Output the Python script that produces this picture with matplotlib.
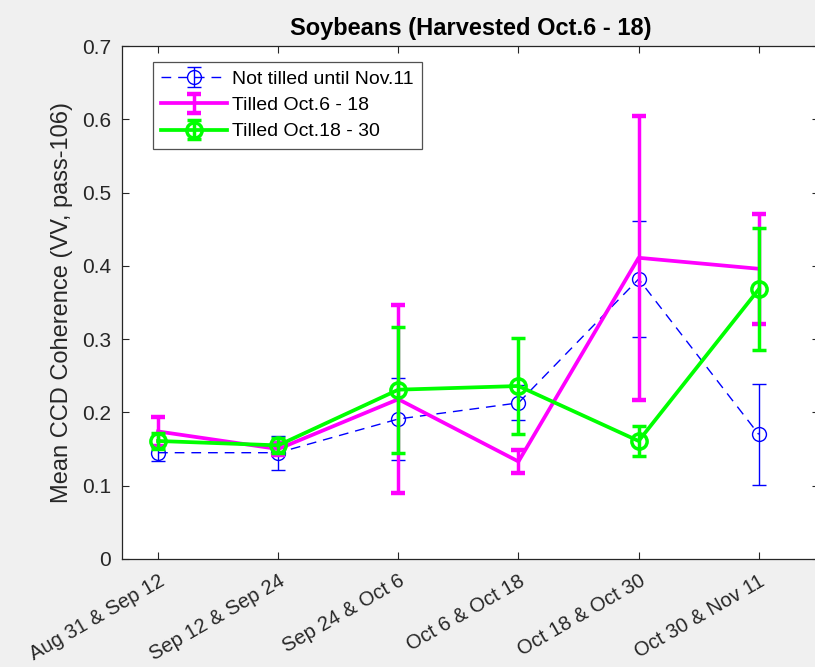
import numpy as np
import matplotlib.pyplot as plt
import matplotlib.transforms as mtransforms

plt.rcParams["font.family"] = ["Liberation Sans", "DejaVu Sans"]

pairs = ["Aug 31 & Sep 12", "Sep 12 & Sep 24", "Sep 24 & Oct 6",
         "Oct 6 & Oct 18", "Oct 18 & Oct 30", "Oct 30 & Nov 11"]

# mean coherence and error half-widths per image pair
not_tilled = [0.145, 0.145, 0.191, 0.213, 0.382, 0.170]
not_tilled_err = [0.011, 0.023, 0.056, 0.024, 0.079, 0.069]

tilled_oct6 = [0.174, 0.150, 0.218, 0.133, 0.411, 0.396]
tilled_oct6_err = [0.020, 0.008, 0.128, 0.016, 0.194, 0.075]

tilled_oct18 = [0.161, 0.155, 0.231, 0.236, 0.161, 0.368]
tilled_oct18_err = [0.011, 0.010, 0.086, 0.066, 0.020, 0.083]

yticks = [0, 0.1, 0.2, 0.3, 0.4, 0.5, 0.6, 0.7]

x = np.arange(1, len(pairs) + 1)
ink = "#262626"

fig = plt.figure(figsize=(8.15, 6.67), dpi=100, facecolor="#f0f0f0")
ax = fig.add_axes([0.1497, 0.162, 0.855, 0.769])

ax.errorbar(x, not_tilled, yerr=not_tilled_err, color="#0000ff", ls=(0, (7, 5)),
            lw=1.0, marker="o", ms=10, mfc="none", mew=1.0, capsize=5,
            elinewidth=1.0, capthick=1.0, label="Not tilled until Nov.11", zorder=3)
ax.errorbar(x, tilled_oct6, yerr=tilled_oct6_err, color="#ff00ff", ls="-",
            lw=2.7, capsize=5, elinewidth=2.5, capthick=3.2,
            label="Tilled Oct.6 - 18", zorder=4)
ax.errorbar(x, tilled_oct18, yerr=tilled_oct18_err, color="#00ff00", ls="-",
            lw=2.7, marker="o", ms=11, mfc="none", mew=2.5, capsize=5,
            elinewidth=2.5, capthick=3.2, label="Tilled Oct.18 - 30", zorder=5)

ax.set_xlim(0.7, 6.5)
ax.set_ylim(0, 0.7)
ax.set_xticks(x)
ax.set_xticklabels(pairs, rotation=30, ha="right", va="top", rotation_mode="anchor",
                   fontsize=14.5, color=ink)
# nudge the rotated labels a little to the right
shift = mtransforms.ScaledTranslation(4 / 100, 0, fig.dpi_scale_trans)
for lbl in ax.get_xticklabels():
    lbl.set_transform(lbl.get_transform() + shift)

ax.set_yticks(yticks)
ax.set_yticklabels([f"{v:g}" for v in yticks], fontsize=15, color=ink)
ax.tick_params(direction="in", length=5, width=0.8, color=ink, top=True, right=True)
ax.tick_params(axis="y", pad=8)
ax.tick_params(axis="x", pad=9)
for s in ax.spines.values():
    s.set_color(ink)
    s.set_linewidth(0.9)

ax.set_ylabel("Mean CCD Coherence (VV, pass-106)", fontsize=17, color=ink, labelpad=6)
ax.set_title("Soybeans (Harvested Oct.6 - 18)", fontsize=17, fontweight="bold",
             color="black", pad=8)

leg = ax.legend(loc="upper left", bbox_to_anchor=(0.044, 0.969), fontsize=14,
                frameon=True, fancybox=False, borderpad=0.42, labelspacing=0.45,
                handlelength=3.4, handletextpad=0.25, borderaxespad=0)
leg.get_frame().set_edgecolor(ink)
leg.get_frame().set_linewidth(0.9)

fig.savefig("out.png", dpi=100, facecolor=fig.get_facecolor())
